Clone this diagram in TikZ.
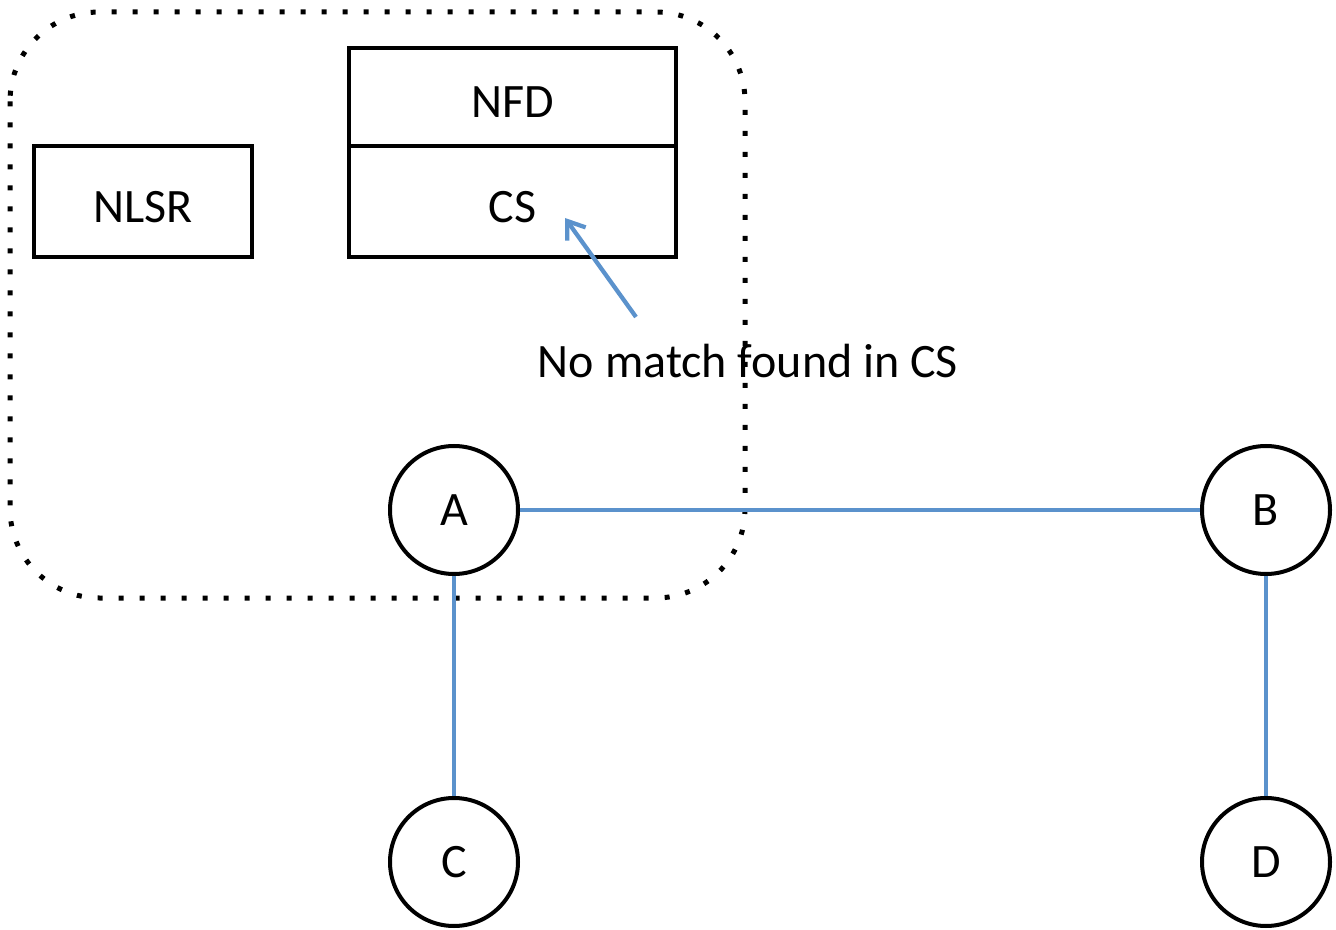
\documentclass[tikz,border=0pt]{standalone}
\usepackage{fontspec}
\setmainfont{Carlito}
\usepackage{tikz}
\usetikzlibrary{arrows.meta,positioning}

\definecolor{linkblue}{RGB}{91,146,204}

\tikzset{
  blockbox/.style={draw,line width=3pt,minimum width=163.5pt,inner sep=0pt,text height=31pt,text depth=0pt,font=\fontsize{36}{43}\selectfont},
  routernode/.style={draw,circle,line width=3pt,minimum size=96pt,inner sep=0pt,font=\fontsize{36}{43}\selectfont},
  link/.style={linkblue,line width=3.2pt},
}

\begin{document}
\begin{tikzpicture}[x=0.75pt,y=0.75pt,yscale=-1,xscale=1]
\useasboundingbox (0,0) rectangle (1336,930);

%Shape: Rounded Rectangle (dotted) 
\draw [line width=3.75pt,dash pattern={on 3.75pt off 12pt},rounded corners=67pt] (10,12) rectangle (745,598);

%Shape: Rectangle 
\node (nlsr) [blockbox,minimum height=83.25pt] at (143,201.5) {NLSR};
%Shape: Rectangle 
\node (nfd) [blockbox,minimum width=245.25pt,minimum height=73.5pt] at (512.5,97) {NFD};
%Shape: Rectangle 
\node (cs) [blockbox,minimum width=245.25pt,minimum height=83.25pt] at (512.5,201.5) {CS};

%Shape: Circle 
\node (A) [routernode] at (454,510) {A};
\node (B) [routernode] at (1266,510) {B};
\node (C) [routernode] at (454,862) {C};
\node (D) [routernode] at (1266,862) {D};

%Straight Lines 
\draw [link] (A) -- (B);
\draw [link] (A) -- (C);
\draw [link] (B) -- (D);

% Text Node
\node (nomatch) [font=\fontsize{36}{43}\selectfont,inner sep=0pt] at (748,361) {No match found in CS};

%Straight Lines (arrow)
\coordinate (tail) at (636,317);
\coordinate (tip) at (565,218);
\draw [link,-{Straight Barb[length=12pt,width=17pt,line width=3.2pt]}] (tail) -- (tip);

\end{tikzpicture}
\end{document}
